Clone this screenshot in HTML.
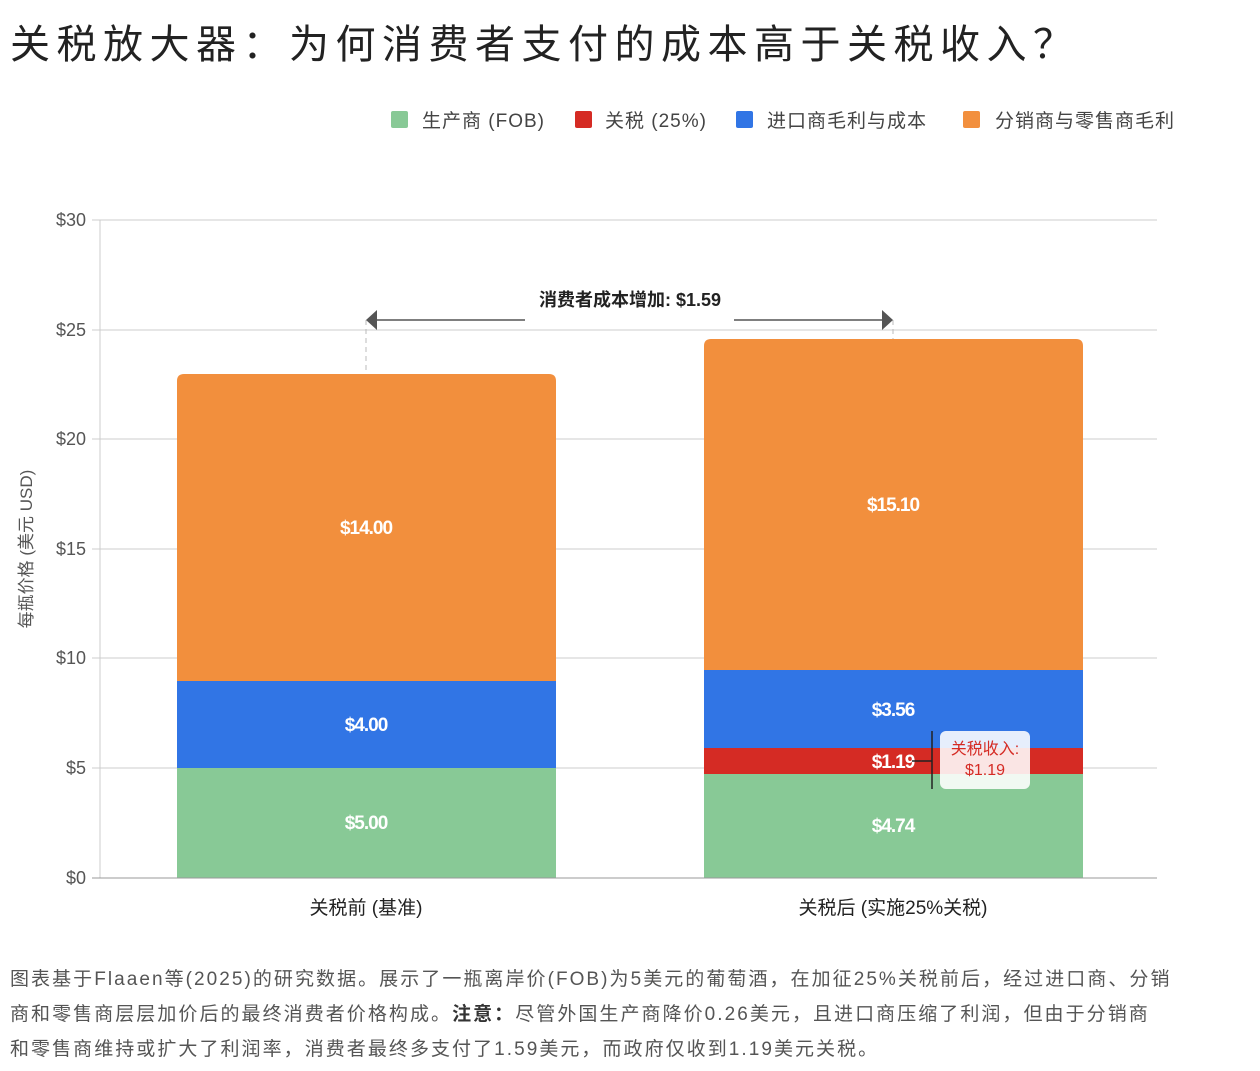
<!DOCTYPE html>
<html><head><meta charset="utf-8"><style>
body{margin:0;width:1260px;height:1071px;background:#fff;font-family:"Liberation Sans","Noto Sans CJK SC",sans-serif;position:relative;overflow:hidden}
.t{position:absolute;white-space:nowrap}
</style></head><body>
<div class="t" style="left:10px;top:12px;font-size:40px;color:#222;letter-spacing:6.5px">关税放大器：为何消费者支付的成本高于关税收入？</div>
<svg width="1260" height="1071" style="position:absolute;left:0;top:0" font-family="Liberation Sans, Noto Sans CJK SC, sans-serif">
<g font-size="19" fill="#444" letter-spacing="1">
<rect x="391" y="111" width="17" height="17" fill="#88c996" rx="2"/><text x="422" y="127">生产商 (FOB)</text>
<rect x="575" y="111" width="17" height="17" fill="#d52b24" rx="2"/><text x="605" y="127">关税 (25%)</text>
<rect x="736" y="111" width="17" height="17" fill="#3175e5" rx="2"/><text x="767" y="127">进口商毛利与成本</text>
<rect x="963" y="111" width="17" height="17" fill="#f28f3d" rx="2"/><text x="995" y="127">分销商与零售商毛利</text>
</g>
<g stroke="#ccc" stroke-width="1">
<line x1="92" y1="220" x2="1157" y2="220"/><line x1="92" y1="330" x2="1157" y2="330"/><line x1="92" y1="439" x2="1157" y2="439"/><line x1="92" y1="549" x2="1157" y2="549"/><line x1="92" y1="658" x2="1157" y2="658"/><line x1="92" y1="768" x2="1157" y2="768"/>
<line x1="100" y1="220" x2="100" y2="878"/>
</g>
<g font-size="18" fill="#555" text-anchor="end">
<text x="86" y="226">$30</text><text x="86" y="336">$25</text><text x="86" y="445">$20</text><text x="86" y="555">$15</text><text x="86" y="664">$10</text><text x="86" y="774">$5</text><text x="86" y="884">$0</text>
</g>
<text transform="translate(32,549) rotate(-90)" font-size="17" fill="#555" text-anchor="middle">每瓶价格 (美元 USD)</text>
<path d="M177,768 V381 Q177,374 184,374 H549 Q556,374 556,381 V768Z" fill="#f28f3d"/>
<rect x="177" y="681" width="379" height="88" fill="#3175e5"/>
<rect x="177" y="768" width="379" height="110" fill="#88c996"/>
<path d="M704,748 V346 Q704,339 711,339 H1076 Q1083,339 1083,346 V748Z" fill="#f28f3d"/>
<rect x="704" y="670" width="379" height="79" fill="#3175e5"/>
<rect x="704" y="748" width="379" height="27" fill="#d52b24"/>
<rect x="704" y="774" width="379" height="104" fill="#88c996"/>
<line x1="92" y1="878" x2="1157" y2="878" stroke="#999"/>
<g font-size="19" fill="#fff" font-weight="bold" text-anchor="middle" letter-spacing="-1">
<text x="366" y="534">$14.00</text><text x="366" y="731">$4.00</text><text x="366" y="829">$5.00</text>
<text x="893" y="511">$15.10</text><text x="893" y="716">$3.56</text><text x="893" y="768">$1.19</text><text x="893" y="832">$4.74</text>
</g>
<line x1="912" y1="761" x2="932" y2="761" stroke="#222" stroke-width="1.5"/>
<line x1="932" y1="731" x2="932" y2="789" stroke="#222" stroke-width="1.5"/>
<rect x="940" y="731" width="90" height="58" rx="6" fill="#fff" fill-opacity="0.88"/>
<g font-size="16" fill="#d52b24" text-anchor="middle"><text x="985" y="754">关税收入:</text><text x="985" y="775">$1.19</text></g>
<g stroke="#bbb" stroke-dasharray="5,4"><line x1="366" y1="320" x2="366" y2="374"/><line x1="893" y1="320" x2="893" y2="339"/></g>
<g stroke="#555" stroke-width="1.5"><line x1="372" y1="320" x2="525" y2="320"/><line x1="734" y1="320" x2="887" y2="320"/></g>
<polygon points="366,320 377,310 377,330" fill="#555"/><polygon points="893,320 882,310 882,330" fill="#555"/>
<text x="630" y="306" font-size="18" font-weight="bold" fill="#222" text-anchor="middle">消费者成本增加: $1.59</text>
<g font-size="19" fill="#222" text-anchor="middle"><text x="366" y="914">关税前 (基准)</text><text x="893" y="914">关税后 (实施25%关税)</text></g>
</svg>
<div class="t" style="left:10px;top:962px;font-size:19px;line-height:35px;color:#555;letter-spacing:2.05px">图表基于Flaaen等(2025)的研究数据。展示了一瓶离岸价(FOB)为5美元的葡萄酒，在加征25%关税前后，经过进口商、分销<br>商和零售商层层加价后的最终消费者价格构成。<b style="color:#333">注意：</b>尽管外国生产商降价0.26美元，且进口商压缩了利润，但由于分销商<br>和零售商维持或扩大了利润率，消费者最终多支付了1.59美元，而政府仅收到1.19美元关税。</div>
</body></html>
